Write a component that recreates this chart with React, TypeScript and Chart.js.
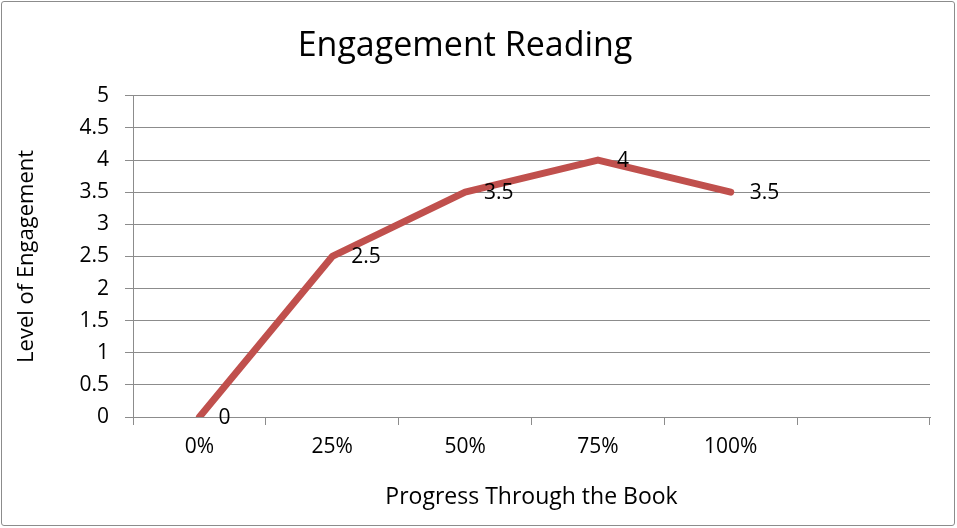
import React, { useEffect, useRef } from "react";
import { Chart, registerables } from "chart.js";

Chart.register(...registerables);

const categories = ["0%", "25%", "50%", "75%", "100%", ""];
const engagement: (number | null)[] = [0, 2.5, 3.5, 4, 3.5, null];
const chartTitle = "Engagement Reading";
const xTitle = "Progress Through the Book";
const yTitle = "Level of Engagement";

const FONT = "'Open Sans', 'DejaVu Sans', sans-serif";
const GRID = "#8c8c8c";

const labelPlugin = {
  id: "pointLabels",
  afterDatasetsDraw(chart: any) {
    const ctx = chart.ctx;
    const meta = chart.getDatasetMeta(0);
    ctx.save();
    ctx.font = `21px ${FONT}`;
    ctx.fillStyle = "#000";
    ctx.textAlign = "left";
    ctx.textBaseline = "middle";
    meta.data.forEach((pt: any, i: number) => {
      const v = engagement[i];
      if (v === null || v === undefined) return;
      ctx.fillText(String(v), pt.x + 19, pt.y + 1);
    });
    ctx.restore();
  },
};

export default function App() {
  const ref = useRef<HTMLCanvasElement | null>(null);
  useEffect(() => {
    if (!ref.current) return;
    const chart = new Chart(ref.current, {
      type: "line",
      data: {
        labels: categories,
        datasets: [
          {
            data: engagement,
            borderColor: "#C0504D",
            borderWidth: 7,
            pointRadius: 0,
            borderCapStyle: "round",
            borderJoinStyle: "round",
            tension: 0,
            spanGaps: false,
          },
        ],
      },
      options: {
        animation: false,
        responsive: false,
        maintainAspectRatio: false,
        layout: { padding: { left: 0, right: 27, top: 0, bottom: 0 } },
        plugins: {
          legend: { display: false },
          tooltip: { enabled: false },
          title: {
            display: true,
            text: chartTitle,
            color: "#000",
            font: { family: FONT, size: 34, weight: "normal" },
            padding: { top: 26, bottom: 29 },
          },
        },
        scales: {
          x: {
            type: "category",
            offset: true,
            grid: {
              offset: true,
              drawOnChartArea: false,
              drawTicks: true,
              tickLength: 8,
              color: GRID,
              lineWidth: 1,
            },
            border: { display: true, color: GRID, width: 1 },
            ticks: {
              color: "#000",
              padding: 9,
              maxRotation: 0,
              autoSkip: false,
              font: { family: FONT, size: 21 },
            },
            title: {
              display: true,
              text: xTitle,
              color: "#000",
              font: { family: FONT, size: 23 },
              padding: { top: 0, bottom: 17 },
            },
            afterFit: (s: any) => {
              s.height = 111;
            },
          },
          y: {
            min: 0,
            max: 5,
            ticks: {
              stepSize: 0.5,
              color: "#000",
              padding: 16,
              font: { family: FONT, size: 21 },
              callback: (v: any) => String(Number(v)),
            },
            grid: {
              color: GRID,
              lineWidth: 1,
              tickLength: 8,
              drawTicks: true,
            },
            border: { display: true, color: GRID, width: 1 },
            title: {
              display: true,
              text: yTitle,
              color: "#000",
              font: { family: FONT, size: 22 },
              padding: { top: 14, bottom: 0 },
            },
            afterFit: (s: any) => {
              s.width = 133;
            },
          },
        },
      },
      plugins: [labelPlugin],
    });
    return () => chart.destroy();
  }, []);

  return (
    <div
      style={{
        position: "fixed",
        left: 0,
        top: 0,
        width: 957,
        height: 528,
        background: "#fff",
      }}
    >
      <canvas ref={ref} width={957} height={528} style={{ width: 957, height: 528, display: "block" }} />
      <div
        style={{
          position: "absolute",
          left: 1,
          top: 1,
          width: 952,
          height: 523,
          border: "1.5px solid #8c8c8c",
          borderRadius: 3,
          pointerEvents: "none",
        }}
      />
    </div>
  );
}
